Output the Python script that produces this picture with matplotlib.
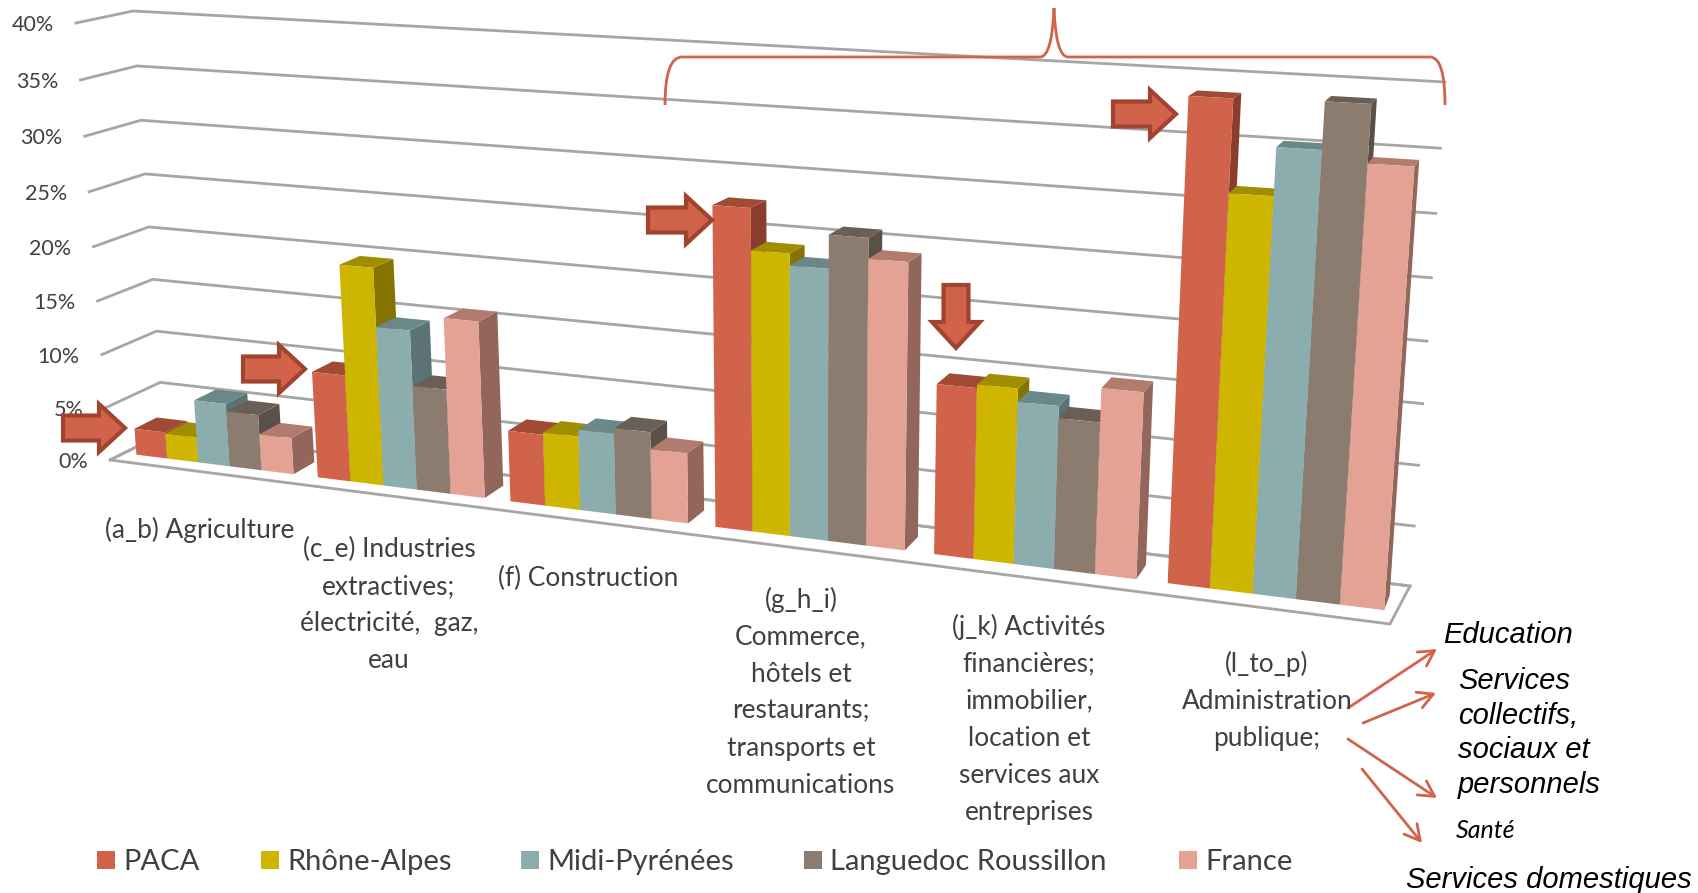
import numpy as np
import matplotlib
matplotlib.use("Agg")
import matplotlib.pyplot as plt
from matplotlib.patches import Polygon, FancyArrow, PathPatch, Rectangle
from matplotlib.path import Path

# values, in %
paca = [2.5, 9.8, 6.4, 27.6, 14.4, 38.65]
rhone_alpes = [2.4, 19.8, 6.6, 24.1, 14.7, 31.5]
midi_pyrenees = [5.9, 14.5, 7.2, 23.1, 13.6, 35.2]
languedoc = [5.2, 9.5, 7.7, 25.9, 12.6, 38.8]
france = [3.4, 15.9, 6.2, 24.2, 15.4, 34.4]

series_names = ["PACA", "Rhône-Alpes", "Midi-Pyrénées", "Languedoc Roussillon", "France"]
series_values = [paca, rhone_alpes, midi_pyrenees, languedoc, france]
y_ticks = [0, 5, 10, 15, 20, 25, 30, 35, 40]

category_labels = [
    "(a_b) Agriculture",
    "(c_e) Industries\nextractives;\nélectricité,  gaz,\neau",
    "(f) Construction",
    "(g_h_i)\nCommerce,\nhôtels et\nrestaurants;\ntransports et\ncommunications",
    "(j_k) Activités\nfinancières;\nimmobilier,\nlocation et\nservices aux\nentreprises",
    "(l_to_p)\nAdministration\npublique;",
]
label_pos = [(200, 530), (389, 605), (588, 578), (801, 692), (1029, 719), (1267, 701)]

face_colors = ["#D1634A", "#CDB500", "#8CADAE", "#8C7B6F", "#E4A294"]
top_colors = ["#A14A35", "#A08D00", "#6A8789", "#6B5F55", "#B37B6E"]
side_colors = ["#8B3D2D", "#857500", "#5B7374", "#5A504A", "#93665C"]
red = "#D1634A"
red_dark = "#A0442F"
grey_text = "#404040"
grid_col = "#A6A6A6"

N_CAT = 6
V_MAX = 40
GAP = 0.13
W_FRONT = 0.25
W_BACK = 0.68


def homography(corners):
    # corners: pixel pos of (0,0), (1,0), (0,1), (1,1)
    src = [(0, 0), (1, 0), (0, 1), (1, 1)]
    A, b = [], []
    for (s, t), (x, y) in zip(src, corners):
        A.append([s, t, 1, 0, 0, 0, -s * x, -t * x])
        A.append([0, 0, 0, s, t, 1, -s * y, -t * y])
        b += [x, y]
    h = np.linalg.solve(np.array(A, float), np.array(b, float))
    return np.append(h, 1).reshape(3, 3)


H_FRONT = homography([(110, 460), (1390, 624), (76, 23), (1425, 97)])
H_BARS = homography([(112, 460), (1398, 621), (78, 23), (1435, 94)])
H_BACK = homography([(164, 433), (1410, 586), (133, 11), (1445, 82)])


def apply_h(H, u, v):
    p = H @ np.array([u / N_CAT, v / V_MAX, 1.0])
    return p[:2] / p[2]


def project(u, v, w=0.0, front=H_FRONT):
    # u in categories, v in %, w = depth (0 front, 1 back wall)
    return (1 - w) * apply_h(front, u, v) + w * apply_h(H_BACK, u, v)


fig = plt.figure(figsize=(16.98, 8.93), dpi=100)
ax = fig.add_axes([0, 0, 1, 1])
ax.set_xlim(0, 1698)
ax.set_ylim(893, 0)
ax.axis("off")

# floor
floor = [project(0, 0, 0), project(N_CAT, 0, 0), project(N_CAT, 0, 1), project(0, 0, 1)]
ax.add_patch(Polygon(floor, closed=True, fc="white", ec=grid_col, lw=2, zorder=1))

# gridlines and tick labels
for t in y_ticks:
    pts = np.array([project(0, t, 0), project(0, t, 1), project(N_CAT, t, 1)])
    ax.plot(pts[:, 0], pts[:, 1], color=grid_col, lw=2, zorder=1)
    ax.text(pts[0, 0] - 22, pts[0, 1] + 2, f"{t}%", ha="right", va="center",
            fontsize=15.5, color=grey_text, family="Lato")

# bars
bar_w = (1 - GAP) / len(series_values)
for i in range(N_CAT):
    for j, vals in enumerate(series_values):
        u0 = i + GAP / 2 + j * bar_w
        u1 = u0 + bar_w
        v = vals[i]
        side = [project(u1, 0, W_FRONT, H_BARS), project(u1, 0, W_BACK, H_BARS),
                project(u1, v, W_BACK, H_BARS), project(u1, v, W_FRONT, H_BARS)]
        top = [project(u0, v, W_FRONT, H_BARS), project(u1, v, W_FRONT, H_BARS),
               project(u1, v, W_BACK, H_BARS), project(u0, v, W_BACK, H_BARS)]
        front = [project(u0, 0, W_FRONT, H_BARS), project(u1, 0, W_FRONT, H_BARS),
                 project(u1, v, W_FRONT, H_BARS), project(u0, v, W_FRONT, H_BARS)]
        ax.add_patch(Polygon(side, closed=True, fc=side_colors[j], ec="none", zorder=2))
        ax.add_patch(Polygon(top, closed=True, fc=top_colors[j], ec="none", zorder=2))
        ax.add_patch(Polygon(front, closed=True, fc=face_colors[j], ec="none", zorder=2))

# category labels
for txt, (x, y) in zip(category_labels, label_pos):
    ax.text(x, y, txt, ha="center", va="center", fontsize=18.9, color=grey_text,
            family="Lato", linespacing=1.6, zorder=5)

# legend
legend_x = [97, 261, 521, 804, 1179]
for name, col, x in zip(series_names, face_colors, legend_x):
    ax.add_patch(Rectangle((x, 851), 18, 18, fc=col, ec="none"))
    ax.text(x + 26, 862, name, ha="left", va="center", fontsize=21, color=grey_text, family="Lato")

# block arrows
block_arrows = [(63, 428, 62, 0), (243, 369, 62, 0), (648, 220, 64, 0), (1113, 114, 63, 0), (956, 285, 0, 63)]
for x, y, dx, dy in block_arrows:
    ax.add_patch(FancyArrow(x, y, dx, dy, width=25, head_width=48, head_length=26,
                            length_includes_head=True, fc=red, ec=red_dark, lw=3, zorder=6))

# brace on top
verts = [(665, 105), (665, 57), (682, 57), (1040, 57), (1052, 57), (1054, 8),
         (1056, 57), (1068, 57), (1430, 57), (1445, 57), (1445, 105)]
codes = [Path.MOVETO, Path.CURVE3, Path.CURVE3, Path.LINETO, Path.CURVE3, Path.CURVE3,
         Path.CURVE3, Path.CURVE3, Path.LINETO, Path.CURVE3, Path.CURVE3]
ax.add_patch(PathPatch(Path(verts, codes), fc="none", ec=red, lw=2, zorder=6))

# thin arrows to the sub-sector names
thin_arrows = [((1348, 708), (1437, 649)), ((1363, 723), (1436, 693)),
               ((1348, 739), (1437, 798)), ((1362, 769), (1422, 843))]
for start, end in thin_arrows:
    ax.annotate("", xy=end, xytext=start,
                arrowprops=dict(arrowstyle="->,head_length=1.1,head_width=0.6", color=red, lw=2,
                                shrinkA=0, shrinkB=0))

sub_labels = [
    ("Education", 1443, 635, 21, "Liberation Sans"),
    ("Services", 1458, 681, 21, "Liberation Sans"),
    ("collectifs,", 1458, 716, 21, "Liberation Sans"),
    ("sociaux et", 1458, 750, 21, "Liberation Sans"),
    ("personnels", 1458, 785, 21, "Liberation Sans"),
    ("Santé", 1456, 830, 18, "Lato"),
    ("Services domestiques", 1406, 880, 21, "Liberation Sans"),
]
# the text box in the original cuts the last word off
clip_box = Rectangle((0, 0), 1677, 893, transform=ax.transData)
for txt, x, y, size, fam in sub_labels:
    t = ax.text(x, y, txt, ha="left", va="center", fontsize=size, style="italic",
                family=fam, color="black")
    t.set_clip_path(clip_box)

fig.savefig("out.png", dpi=100)
